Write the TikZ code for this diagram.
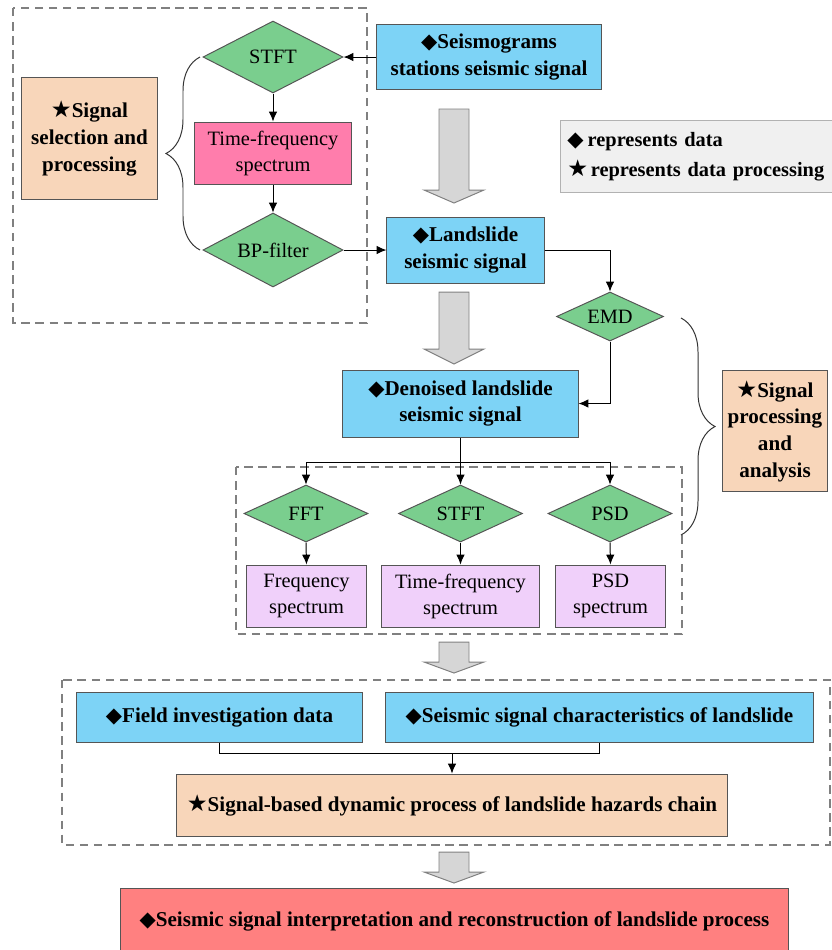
\documentclass[tikz,border=0pt]{standalone}
\usepackage{fontspec}
\setmainfont{Liberation Serif}
\newfontfamily\symfont{DejaVu Sans}
\usetikzlibrary{shapes.geometric,arrows.meta,decorations.pathreplacing}

\definecolor{datablue}{RGB}{125,211,246}
\definecolor{toolgreen}{RGB}{122,206,142}
\definecolor{specpink}{RGB}{255,125,172}
\definecolor{stagepeach}{RGB}{248,214,186}
\definecolor{speclilac}{RGB}{240,208,250}
\definecolor{resultred}{RGB}{255,128,128}
\definecolor{legendgray}{RGB}{240,240,240}
\definecolor{arrowgray}{RGB}{214,214,214}
\definecolor{edgegray}{RGB}{85,85,85}

\newcommand{\dat}{{\symfont\fontsize{15}{15}\selectfont ◆}}
\newcommand{\prc}{{\symfont\fontsize{16.5}{16}\selectfont ★}}
% big gray arrow: centre x, top, start of head, tip
\newcommand{\bigdown}[4]{%
  \draw[bigarrow] (#1-15,#2) -- (#1+15,#2) -- (#1+15,#3) -- (#1+30,#3)
    -- (#1,#4) -- (#1-30,#3) -- (#1-15,#3) -- cycle;}

\tikzset{
  box/.style={draw=edgegray, rectangle, inner sep=0pt, align=center},
  databox/.style={box, fill=datablue, font=\bfseries\fontsize{15}{19}\selectfont},
  stagebox/.style={box, fill=stagepeach, font=\bfseries\fontsize{15}{19}\selectfont},
  specbox/.style={box, fill=speclilac, font=\fontsize{14.5}{18.5}\selectfont},
  tool/.style={diamond, draw=edgegray, fill=toolgreen, inner sep=0pt, aspect=2,
    font=\fontsize{14.5}{18.5}\selectfont},
  group/.style={draw=gray, line width=0.9pt, dash pattern=on 6pt off 4pt},
  bigarrow/.style={draw=gray, fill=arrowgray},
  curly/.style={decorate, decoration={brace, amplitude=0.85cm}, draw=black!80},
  legendbox/.style={draw=gray!60, fill=legendgray, align=left, inner xsep=0.17cm,
    text width=7cm, minimum height=1.8cm, font=\bfseries\fontsize{14.5}{21}\selectfont},
}

\begin{document}
\begin{tikzpicture}[x=0.025cm, y=-0.025cm, line width=0.7pt, >={Latex[length=7pt,width=6pt]}]
\useasboundingbox (0,0) rectangle (832,950);
\clip (0,0) rectangle (832,950);

%% Signal selection and processing
\draw[group] (13,8) rectangle (367,323);
\node[tool, minimum width=3.5cm, minimum height=1.8cm] (stfta) at (273,57) {STFT};
\node[box, fill=specpink, font=\fontsize{14.5}{18.5}\selectfont,
  minimum width=3.925cm, minimum height=1.55cm] (tfsa) at (273,153) {Time-frequency\\spectrum};
\node[tool, minimum width=3.5cm, minimum height=1.85cm] (bp) at (273,250) {BP-filter};
\node[stagebox, minimum width=3.375cm, minimum height=3.025cm] (select) at (89.5,138.5)
  {\prc Signal\\selection and\\processing};
\draw[curly] (200,250) -- (200,57);

%% Raw and landslide signal
\node[databox, minimum width=5.6cm, minimum height=1.625cm] (seis) at (489,57)
  {\dat Seismograms\\stations seismic signal};
\node[legendbox, anchor=north west] (legend) at (560,120)
  {\dat\hspace{3pt}represents data\\\prc\hspace{2pt}represents data processing};
\bigdown{454}{109}{190}{203}
\node[databox, minimum width=3.925cm, minimum height=1.65cm] (land) at (465.5,250)
  {\dat Landslide\\seismic signal};
\draw[->] (seis.west) -- (stfta.east);
\draw[->] (stfta.south) -- (tfsa.north);
\draw[->] (tfsa.south) -- (bp.north);
\draw[->] (bp.east) -- (land.west);

%% Signal processing and analysis
\node[tool, minimum width=2.675cm, minimum height=1.225cm] (emd) at (610,316.5) {EMD};
\bigdown{454}{292}{349}{364}
\node[databox, minimum width=5.875cm, minimum height=1.675cm] (denoise) at (460.5,403.5)
  {\dat Denoised landslide\\seismic signal};
\draw[->] (land.east) -| (emd.north);
\draw[->] (emd.south) |- (denoise.east);

\draw[group] (236,467) rectangle (682,634);
\node[tool, minimum width=3.1cm, minimum height=1.425cm] (fft) at (306,513.5) {FFT};
\node[tool, minimum width=3.1cm, minimum height=1.425cm] (stftb) at (460.5,513.5) {STFT};
\node[tool, minimum width=3.1cm, minimum height=1.425cm] (psd) at (610,513.5) {PSD};
\node[specbox, minimum width=2.975cm, minimum height=1.55cm] (fs) at (306.5,596)
  {Frequency\\spectrum};
\node[specbox, minimum width=3.925cm, minimum height=1.55cm] (tfsb) at (460.5,596)
  {Time-frequency\\spectrum};
\node[specbox, minimum width=2.725cm, minimum height=1.55cm] (psds) at (610.5,596)
  {PSD\\spectrum};
\coordinate (fork) at (460.5,462);
\draw[->] (denoise.south) -- (stftb.north);
\draw[->] (fork) -| (fft.north);
\draw[->] (fork) -| (psd.north);
\draw[->] (fft.south) -- (fs.north);
\draw[->] (stftb.south) -- (tfsb.north);
\draw[->] (psd.south) -- (psds.north);

\node[stagebox, minimum width=2.6cm, minimum height=3.025cm] (analysis) at (775,431)
  {\prc Signal\\processing\\and\\analysis};
\draw[curly] (681,318) -- (681,535);

%% Hazards chain
\bigdown{454}{642}{662}{673}
\draw[group] (62,680) rectangle (830,845);
\node[databox, minimum width=7.125cm, minimum height=1.25cm] (field) at (219.5,717)
  {\dat Field investigation data};
\node[databox, minimum width=10.675cm, minimum height=1.25cm] (chars) at (599.5,717)
  {\dat Seismic signal characteristics of landslide};
\node[stagebox, minimum width=13.75cm, minimum height=1.55cm] (chain) at (452,805)
  {\prc Signal-based dynamic process of landslide hazards chain};
\coordinate (join) at (452,753);
\draw (field.south) |- (join) -| (chars.south);
\draw[->] (join) -- (chain.north);

%% Result
\bigdown{454}{852}{872}{883}
\node[box, fill=resultred, font=\bfseries\fontsize{15}{19}\selectfont,
  minimum width=16.675cm, minimum height=1.65cm] (result) at (454.5,921)
  {\dat Seismic signal interpretation and reconstruction of landslide process};

\end{tikzpicture}
\end{document}
